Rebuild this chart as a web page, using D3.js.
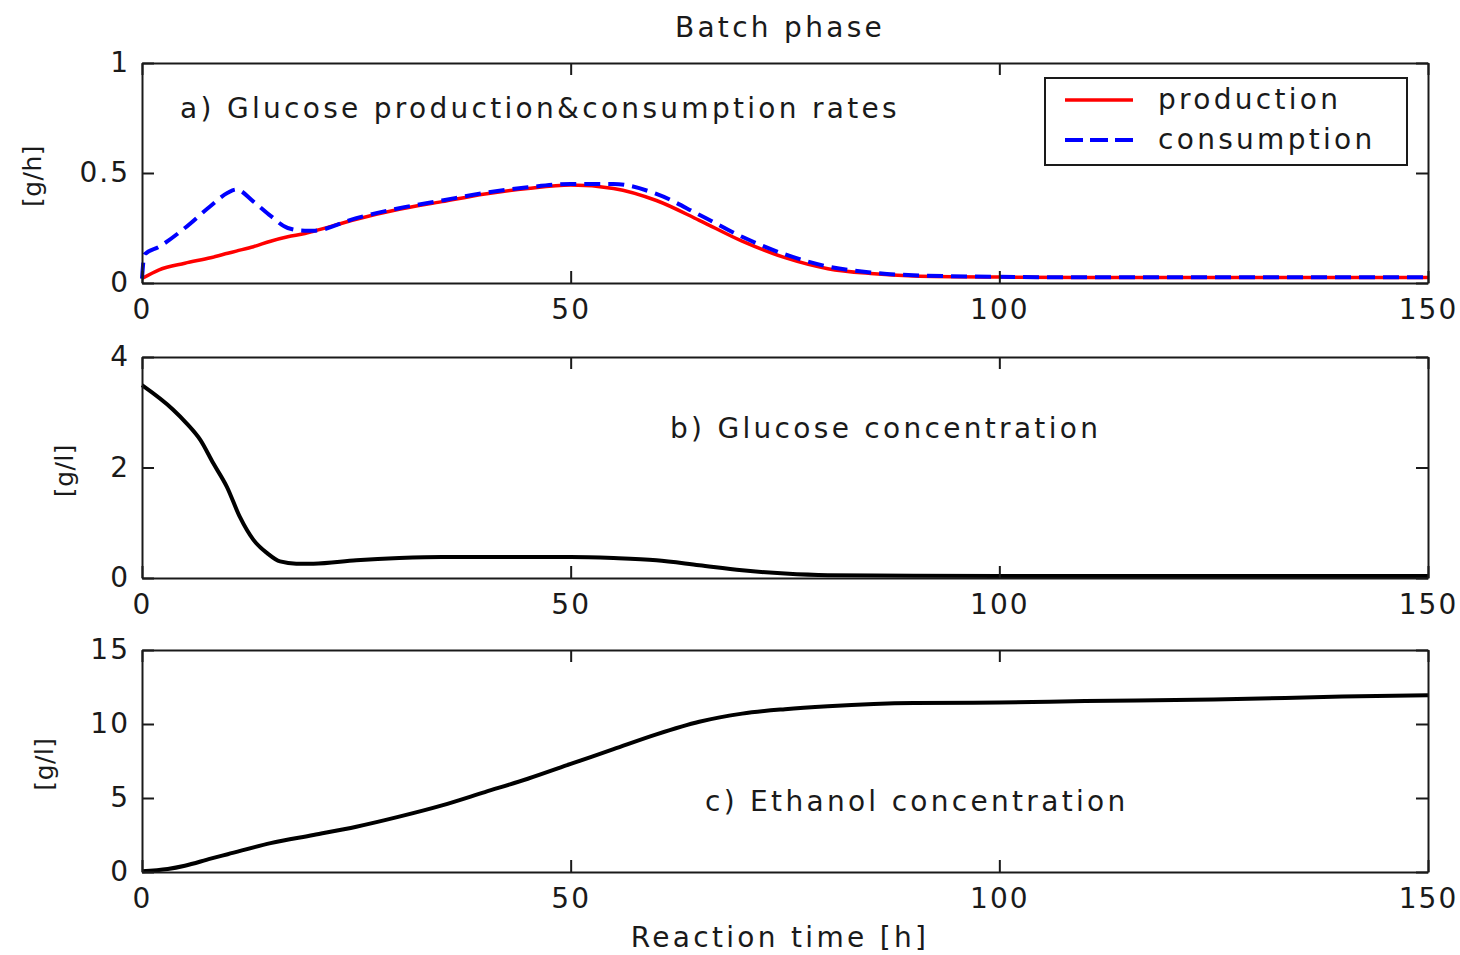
<!DOCTYPE html>
<html>
<head>
<meta charset="utf-8">
<script src="https://cdn.jsdelivr.net/npm/d3@7"></script>
<style>
  body { margin: 0; background: #fff; }
  svg text { font-family: 'DejaVu Sans', sans-serif; fill: #1a1a1a; letter-spacing: 3.3px; }
  .axis text { letter-spacing: 2px; }
  .axis path, .axis line { stroke: #1a1a1a; stroke-width: 2; }
</style>
</head>
<body>
<svg width="1460" height="955"></svg>
<script>
const WIDTH = 1460;
const HEIGHT = 955;

// a) glucose production & consumption rates [g/h]
const timeProd = [0, 2, 5, 8, 10, 11, 13, 15, 17, 19, 20, 25, 30, 35, 40, 45, 50, 55, 60, 65, 70, 75, 80, 85, 90, 100, 110, 120, 130, 140, 150];
const production = [0.02, 0.06, 0.09, 0.115, 0.135, 0.145, 0.165, 0.19, 0.21, 0.225, 0.235, 0.29, 0.335, 0.37, 0.405, 0.43, 0.445, 0.43, 0.375, 0.285, 0.19, 0.115, 0.065, 0.043, 0.032, 0.027, 0.025, 0.025, 0.025, 0.025, 0.025];
const timeCons = [0, 0.3, 2, 5, 8, 10, 11, 13, 15, 17, 19, 20, 25, 30, 35, 40, 45, 50, 55, 60, 65, 70, 75, 80, 85, 90, 100, 110, 120, 130, 140, 150];
const consumption = [0.02, 0.13, 0.165, 0.25, 0.35, 0.41, 0.425, 0.37, 0.305, 0.25, 0.238, 0.238, 0.295, 0.34, 0.375, 0.41, 0.435, 0.45, 0.45, 0.405, 0.31, 0.21, 0.13, 0.075, 0.048, 0.035, 0.028, 0.026, 0.026, 0.026, 0.026, 0.026];

// b) glucose concentration [g/l]
const timeGlu = [0, 3.6, 5.2, 6.8, 8.3, 9.9, 11.4, 13, 14.6, 16.1, 18, 20, 25, 30, 35, 40, 45, 50, 55, 60, 65, 70, 75, 80, 90, 100, 125, 150];
const glucose = [3.49, 3.05, 2.8, 2.5, 2.08, 1.65, 1.11, 0.69, 0.45, 0.3, 0.26, 0.26, 0.32, 0.36, 0.38, 0.38, 0.38, 0.38, 0.36, 0.32, 0.23, 0.14, 0.08, 0.05, 0.04, 0.035, 0.035, 0.035];

// c) ethanol concentration [g/l]
const timeEth = [0, 3, 5, 8, 10, 15, 20, 25, 30, 35, 40, 45, 50, 55, 60, 65, 70, 75, 80, 90, 100, 110, 125, 140, 150];
const ethanol = [0.05, 0.2, 0.42, 0.9, 1.2, 1.95, 2.5, 3.06, 3.74, 4.5, 5.4, 6.3, 7.3, 8.3, 9.3, 10.15, 10.7, 11.0, 11.2, 11.42, 11.45, 11.55, 11.65, 11.85, 11.95];

const xTicks = [0, 50, 100, 150];
const legendLabels = ['production', 'consumption'];

const svg = d3.select('svg');
const left = 142, right = 1428;
const x = d3.scaleLinear().domain([0, 150]).range([left, right]);

const panels = [
  { top: 63, bottom: 283, max: 1, ticks: [0, 0.5, 1], unit: '[g/h]', ux: 32, title: 'a) Glucose production&consumption rates', tx: 180, ty: 118,
    series: [
      { t: timeProd, v: production, color: '#ff0000', width: 3.5, dash: null },
      { t: timeCons, v: consumption, color: '#0000ff', width: 4, dash: '16,8' }
    ] },
  { top: 357, bottom: 578, max: 4, ticks: [0, 2, 4], unit: '[g/l]', ux: 64, title: 'b) Glucose concentration', tx: 670, ty: 438,
    series: [{ t: timeGlu, v: glucose, color: '#000', width: 4, dash: null }] },
  { top: 650, bottom: 872, max: 15, ticks: [0, 5, 10, 15], unit: '[g/l]', ux: 44, title: 'c) Ethanol concentration', tx: 705, ty: 811,
    series: [{ t: timeEth, v: ethanol, color: '#000', width: 4, dash: null }] }
];

panels.forEach(p => {
  const y = d3.scaleLinear().domain([0, p.max]).range([p.bottom, p.top]);
  const g = svg.append('g');

  g.append('rect')
    .attr('x', left).attr('y', p.top)
    .attr('width', right - left).attr('height', p.bottom - p.top)
    .attr('fill', '#fff');

  const line = d3.line()
    .x(d => x(d[0]))
    .y(d => y(d[1]))
    .curve(d3.curveMonotoneX);

  p.series.forEach(s => {
    g.append('path')
      .datum(s.t.map((t, i) => [t, s.v[i]]))
      .attr('d', line)
      .attr('fill', 'none')
      .attr('stroke', s.color)
      .attr('stroke-width', s.width)
      .attr('stroke-dasharray', s.dash);
  });

  // axes with inward ticks on all four sides
  g.append('g').attr('class', 'axis')
    .attr('transform', `translate(0,${p.bottom})`)
    .call(d3.axisBottom(x).tickValues(xTicks).tickSizeInner(-12).tickSizeOuter(0).tickPadding(16))
    .selectAll('text').style('font-size', '28px').attr('fill', '#1a1a1a');
  g.append('g').attr('class', 'axis')
    .attr('transform', `translate(0,${p.top})`)
    .call(d3.axisTop(x).tickValues(xTicks).tickSizeInner(-12).tickSizeOuter(0).tickFormat(''));
  g.append('g').attr('class', 'axis')
    .attr('transform', `translate(${left},0)`)
    .call(d3.axisLeft(y).tickValues(p.ticks).tickSizeInner(-12).tickSizeOuter(0).tickPadding(12).tickFormat(d3.format('')))
    .selectAll('text').style('font-size', '28px').attr('fill', '#1a1a1a');
  g.append('g').attr('class', 'axis')
    .attr('transform', `translate(${right},0)`)
    .call(d3.axisRight(y).tickValues(p.ticks).tickSizeInner(-12).tickSizeOuter(0).tickFormat(''));

  g.selectAll('.axis').attr('font-family', null).attr('font-size', null);

  g.append('text')
    .attr('x', p.tx).attr('y', p.ty)
    .style('font-size', '28px')
    .text(p.title);

  g.append('text')
    .attr('transform', `translate(${p.ux},${(p.top + p.bottom) / 2 + 3}) rotate(-90)`)
    .attr('text-anchor', 'middle')
    .attr('dy', '0.35em')
    .style('font-size', '25px')
    .style('letter-spacing', '0.5px')
    .text(p.unit);

  // legend in first panel
  if (p.series.length > 1) {
    const lg = g.append('g');
    lg.append('rect')
      .attr('x', 1045).attr('y', 78)
      .attr('width', 362).attr('height', 87)
      .attr('fill', '#fff').attr('stroke', '#1a1a1a').attr('stroke-width', 2);
    p.series.forEach((s, i) => {
      const ly = 100 + i * 40;
      lg.append('line')
        .attr('x1', 1065).attr('x2', 1133)
        .attr('y1', ly).attr('y2', ly)
        .attr('stroke', s.color).attr('stroke-width', s.width)
        .attr('stroke-dasharray', s.dash ? '18,7' : null);
      lg.append('text')
        .attr('x', 1158).attr('y', ly)
        .attr('dy', '0.32em')
        .style('font-size', '28px')
        .text(legendLabels[i]);
    });
  }
});

svg.append('text')
  .attr('x', 780).attr('y', 37)
  .attr('text-anchor', 'middle')
  .style('font-size', '28px')
  .text('Batch phase');

svg.append('text')
  .attr('x', 780).attr('y', 947)
  .attr('text-anchor', 'middle')
  .style('font-size', '28px')
  .text('Reaction time [h]');
</script>
</body>
</html>
